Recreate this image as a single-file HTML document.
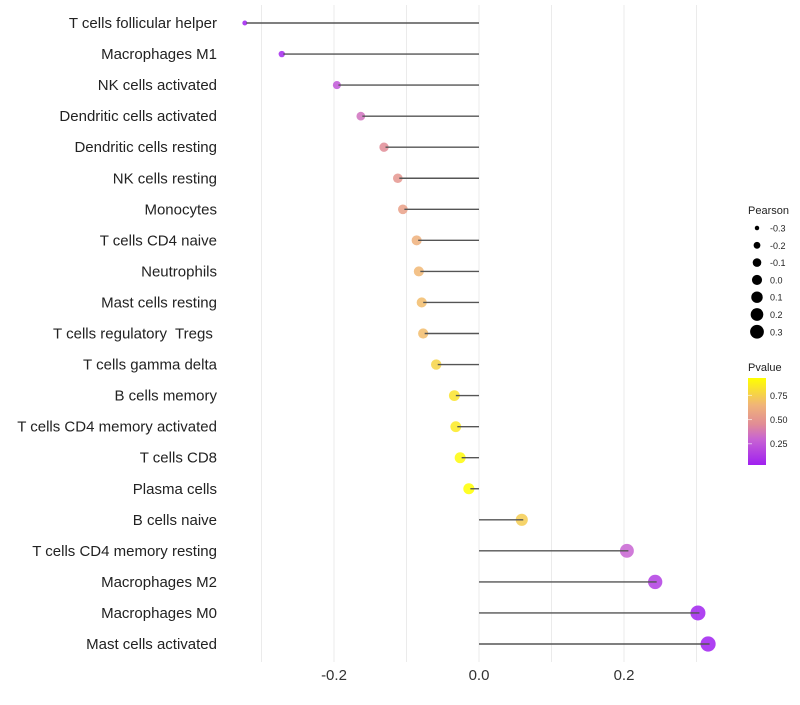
<!DOCTYPE html>
<html><head><meta charset="utf-8"><style>
body{margin:0;background:#fff;font-family:"Liberation Sans",sans-serif}
svg text{font-family:"Liberation Sans",sans-serif;white-space:pre}
</style></head><body>
<svg id="chart" width="800" height="700" xmlns="http://www.w3.org/2000/svg"></svg>
<script>
const categories=["T cells follicular helper","Macrophages M1","NK cells activated","Dendritic cells activated","Dendritic cells resting","NK cells resting","Monocytes","T cells CD4 naive","Neutrophils","Mast cells resting","T cells regulatory  Tregs ","T cells gamma delta","B cells memory","T cells CD4 memory activated","T cells CD8","Plasma cells","B cells naive","T cells CD4 memory resting","Macrophages M2","Macrophages M0","Mast cells activated"];
const pearson=[-0.323,-0.272,-0.196,-0.163,-0.131,-0.112,-0.105,-0.086,-0.083,-0.079,-0.077,-0.059,-0.034,-0.032,-0.026,-0.014,0.059,0.204,0.243,0.302,0.316];
const pvalues=[0.03,0.06,0.25,0.35,0.45,0.5,0.55,0.63,0.66,0.68,0.68,0.77,0.83,0.85,0.91,0.97,0.74,0.3,0.15,0.04,0.03];
const xTicks=[-0.2,0.0,0.2];
const xTickLabels=["-0.2","0.0","0.2"];
const gridMinor=[-0.3,-0.1,0.1,0.3];
const sizeLegend=[-0.3,-0.2,-0.1,0.0,0.1,0.2,0.3];
const colorTicks=[0.25,0.5,0.75];

const NS="http://www.w3.org/2000/svg";
const svg=document.getElementById('chart');
const x=v=>479+v*725;
const y=i=>23+i*31.05;
const rad=v=>Math.sqrt(6+80*(v+0.325));
const stops=[[0.03,[160,32,240]],[0.3,[200,100,210]],[0.45,[225,140,150]],[0.65,[240,180,120]],[0.93,[255,255,0]]];
function col(p){p=Math.max(0.03,Math.min(0.93,p));for(let k=0;k<stops.length-1;k++){const a=stops[k],b=stops[k+1];if(p<=b[0]){const t=(p-a[0])/(b[0]-a[0]);const c=a[1].map((v,j)=>Math.round(v+(b[1][j]-v)*t));return `rgb(${c})`;}}return 'rgb(255,255,0)';}
const cy=p=>465-(p-0.03)/(0.93-0.03)*87;
function el(t,a,txt){const e=document.createElementNS(NS,t);for(const k in a)e.setAttribute(k,a[k]);if(txt!=null)e.textContent=txt;svg.appendChild(e);return e;}

[...xTicks,...gridMinor].forEach(v=>{
 const g=el('line',{x1:x(v),x2:x(v),y1:5,y2:662,stroke:'#ebebeb','stroke-width':1});
 
 
});
xTicks.forEach((v,i)=>{
 const t=el('text',{x:x(v),y:680,'text-anchor':'middle','font-size':15,fill:'#333'},xTickLabels[i]);
 
 
});
categories.forEach((c,i)=>{
 const t=el('text',{x:217,y:y(i)+5,'text-anchor':'end','font-size':15,fill:'#222'},c);
 
 
 const d=el('circle',{cx:x(pearson[i]),cy:y(i),r:rad(pearson[i]),fill:col(pvalues[i]),'fill-opacity':0.85});
 
 
 const l=el('line',{x1:x(0),x2:x(pearson[i])+1.5,y1:y(i),y2:y(i),stroke:'#555','stroke-width':1.4});
 
 
});
const lt=el('text',{x:748,y:214,'font-size':11,fill:'#222'},'Pearson');


sizeLegend.forEach((v,i)=>{
 const cyy=228+i*17.3;
 const c=el('circle',{cx:757,cy:cyy,r:rad(v)-0.6,fill:'#000'});
 
 
 const t=el('text',{x:770,y:cyy+3.5,'font-size':9,fill:'#222'},v.toFixed(1));
 
 
});
const pt=el('text',{x:748,y:371,'font-size':11,fill:'#222'},'Pvalue');


const defs=el('defs',{});
const lg=document.createElementNS(NS,'linearGradient');
lg.setAttribute('id','pg');lg.setAttribute('x1','0');lg.setAttribute('y1','1');lg.setAttribute('x2','0');lg.setAttribute('y2','0');
stops.forEach(s=>{const st=document.createElementNS(NS,'stop');st.setAttribute('offset',(s[0]-0.03)/0.9);st.setAttribute('stop-color',`rgb(${s[1]})`);lg.appendChild(st);});
defs.appendChild(lg);
const bar=el('rect',{x:748,y:378,width:18,height:87,fill:'url(#pg)'});


colorTicks.forEach(p=>{
 const tk=el('line',{x1:748,x2:752,y1:cy(p),y2:cy(p),stroke:'#fff','stroke-opacity':0.6});
 
 
 const t=el('text',{x:770,y:cy(p)+3.5,'font-size':9,fill:'#222'},p.toFixed(2));
 
 
});
</script>
</body></html>
